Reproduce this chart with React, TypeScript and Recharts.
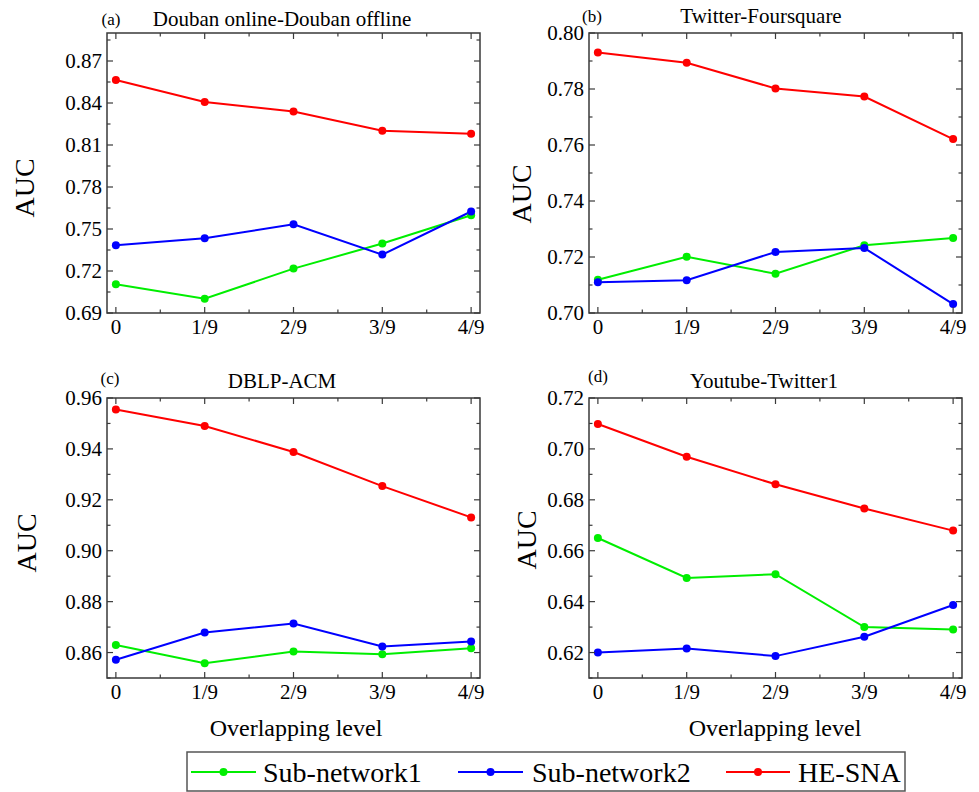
import React from 'react';
import { LineChart, Line, XAxis, YAxis, ReferenceArea } from 'recharts';

// x categories (overlapping level)
const levels = ['0', '1/9', '2/9', '3/9', '4/9'];
const seriesNames = ['Sub-network1', 'Sub-network2', 'HE-SNA'];
const colors = ['#00ee00', '#0000ff', '#ff0000'];

// (a) Douban online-Douban offline
const doubanSub1 = [0.7105, 0.7002, 0.7217, 0.7396, 0.7598];
const doubanSub2 = [0.7384, 0.7434, 0.7534, 0.7317, 0.7625];
const doubanHe = [0.8564, 0.8407, 0.834, 0.8202, 0.818];
const doubanTicks = [0.69, 0.72, 0.75, 0.78, 0.81, 0.84, 0.87];

// (b) Twitter-Foursquare
const twFsSub1 = [0.7119, 0.7201, 0.714, 0.7242, 0.7268];
const twFsSub2 = [0.711, 0.7117, 0.7218, 0.7232, 0.7032];
const twFsHe = [0.793, 0.7894, 0.7802, 0.7773, 0.7621];
const twFsTicks = [0.7, 0.72, 0.74, 0.76, 0.78, 0.8];

// (c) DBLP-ACM
const dblpSub1 = [0.863, 0.8558, 0.8604, 0.8593, 0.8617];
const dblpSub2 = [0.8572, 0.8679, 0.8714, 0.8624, 0.8643];
const dblpHe = [0.9555, 0.949, 0.9388, 0.9254, 0.9131];
const dblpTicks = [0.86, 0.88, 0.9, 0.92, 0.94, 0.96];

// (d) Youtube-Twitter1
const ytSub1 = [0.665, 0.6493, 0.6508, 0.63, 0.6291];
const ytSub2 = [0.62, 0.6216, 0.6186, 0.6262, 0.6387];
const ytHe = [0.7098, 0.6969, 0.6861, 0.6766, 0.6679];
const ytTicks = [0.62, 0.64, 0.66, 0.68, 0.7, 0.72];

const FONT = "'Liberation Serif', 'Times New Roman', serif";
const FRAME = '#3a3a3a';
const YW = 100;
const TOP = 22;
const RIGHT = 20;
const XH = 34;

const toRows = (s1: number[], s2: number[], he: number[]) =>
  levels.map((_, i) => ({ x: i, s1: s1[i], s2: s2[i], he: he[i] }));

const withMinors = (majors: number[], dom: number[]) => {
  const step = majors[1] - majors[0];
  const out = [...majors];
  majors.forEach((m) => {
    if (m + step / 2 <= dom[1] + 1e-9) out.push(m + step / 2);
  });
  if (majors[0] - step / 2 >= dom[0] - 1e-9) out.push(majors[0] - step / 2);
  return out.map((v) => Math.round(v * 10000) / 10000).sort((a, b) => a - b);
};

const panels = [
  { tag: '(a)', title: 'Douban online-Douban offline', rows: toRows(doubanSub1, doubanSub2, doubanHe), majors: doubanTicks, dom: [0.69, 0.89], box: [107, 33, 480, 313] },
  { tag: '(b)', title: 'Twitter-Foursquare', rows: toRows(twFsSub1, twFsSub2, twFsHe), majors: twFsTicks, dom: [0.7, 0.8], box: [589, 33, 962, 313] },
  { tag: '(c)', title: 'DBLP-ACM', rows: toRows(dblpSub1, dblpSub2, dblpHe), majors: dblpTicks, dom: [0.85, 0.96], box: [107, 398, 480, 678] },
  { tag: '(d)', title: 'Youtube-Twitter1', rows: toRows(ytSub1, ytSub2, ytHe), majors: ytTicks, dom: [0.61, 0.72], box: [589, 398, 962, 678] },
];

const xTicks = [0, 0.5, 1, 1.5, 2, 2.5, 3, 3.5, 4];

function Panel({ p }: { p: any }) {
  const [x0, y0, x1, y1] = p.box;
  const plotW = x1 - x0;
  const plotH = y1 - y0;
  const width = YW + plotW + RIGHT;
  const height = TOP + plotH + XH;

  const xTick = (props: any) => {
    const { x, y, payload } = props;
    const v = payload.value;
    const major = Math.abs(v - Math.round(v)) < 1e-6;
    const len = major ? 6 : 3.5;
    return (
      <g>
        <line x1={x} y1={y} x2={x} y2={y - len} stroke={FRAME} strokeWidth={1.2} />
        <line x1={x} y1={y - plotH} x2={x} y2={y - plotH + len} stroke={FRAME} strokeWidth={1.2} />
        {major && (
          <text x={x} y={y + 21} textAnchor="middle" fontSize={21} fontFamily={FONT} fill="#000">
            {levels[Math.round(v)]}
          </text>
        )}
      </g>
    );
  };

  const yTick = (props: any) => {
    const { x, y, payload } = props;
    const v = payload.value;
    const major = p.majors.some((m: number) => Math.abs(m - v) < 1e-6);
    const len = major ? 6 : 3.5;
    return (
      <g>
        <line x1={x} y1={y} x2={x + len} y2={y} stroke={FRAME} strokeWidth={1.2} />
        <line x1={x + plotW} y1={y} x2={x + plotW - len} y2={y} stroke={FRAME} strokeWidth={1.2} />
        {major && (
          <text x={x - 5} y={y + 7} textAnchor="end" fontSize={21} fontFamily={FONT} fill="#000">
            {v.toFixed(2)}
          </text>
        )}
      </g>
    );
  };

  return (
    <div style={{ position: 'absolute', left: x0 - YW, top: y0 - TOP }}>
      <LineChart width={width} height={height} data={p.rows} margin={{ top: TOP, right: RIGHT, bottom: 0, left: 0 }}>
        <XAxis
          dataKey="x"
          type="number"
          domain={[-0.1, 4.1]}
          ticks={xTicks}
          interval={0}
          allowDataOverflow
          height={XH}
          axisLine={false}
          tickLine={false}
          tickSize={0}
          tickMargin={0}
          tick={xTick}
        />
        <YAxis
          type="number"
          domain={p.dom}
          ticks={withMinors(p.majors, p.dom)}
          interval={0}
          allowDataOverflow
          width={YW}
          axisLine={false}
          tickLine={false}
          tickSize={0}
          tickMargin={0}
          tick={yTick}
        />
        <ReferenceArea x1={-0.1} x2={4.1} y1={p.dom[0]} y2={p.dom[1]} fill="none" stroke={FRAME} strokeWidth={1.5} ifOverflow="visible" />
        {['s1', 's2', 'he'].map((k, i) => (
          <Line
            key={k}
            dataKey={k}
            type="linear"
            stroke={colors[i]}
            strokeWidth={2}
            dot={{ r: 4, fill: colors[i], stroke: colors[i], strokeWidth: 0 }}
            isAnimationActive={false}
          />
        ))}
      </LineChart>
    </div>
  );
}

// label positions: [tagX, tagY, titleX, titleY, aucX, aucY]
const labelPos = [
  [111, 25, 282, 26, 25, 188],
  [592, 22, 761, 23, 522, 194],
  [110, 384, 282, 388, 27, 543],
  [598, 382, 764, 388, 527, 540],
];

const legendItems = [
  { line: [191, 256], text: 263 },
  { line: [458, 523], text: 532 },
  { line: [726, 790], text: 798 },
];

export default function App() {
  return (
    <div style={{ position: 'absolute', left: 0, top: 0, width: 979, height: 792, background: '#fff', fontFamily: FONT }}>
      {panels.map((p, i) => (
        <Panel key={i} p={p} />
      ))}
      <svg width={979} height={792} style={{ position: 'absolute', left: 0, top: 0, pointerEvents: 'none' }}>
        {panels.map((p, i) => {
          const [tx, ty, hx, hy, ax, ay] = labelPos[i];
          return (
            <g key={i} fontFamily={FONT} fill="#000">
              <text x={tx} y={ty} textAnchor="middle" fontSize={17}>{p.tag}</text>
              <text x={hx} y={hy} textAnchor="middle" fontSize={21}>{p.title}</text>
              <text transform={`translate(${ax + 9},${ay}) rotate(-90)`} textAnchor="middle" fontSize={28}>AUC</text>
            </g>
          );
        })}
        <text x={296} y={736} textAnchor="middle" fontSize={24} fontFamily={FONT}>Overlapping level</text>
        <text x={775} y={736} textAnchor="middle" fontSize={24} fontFamily={FONT}>Overlapping level</text>
        <rect x={187} y={752} width={718} height={39} fill="#fff" stroke="#555" strokeWidth={1.5} />
        {legendItems.map((it, i) => (
          <g key={i}>
            <line x1={it.line[0]} y1={772} x2={it.line[1]} y2={772} stroke={colors[i]} strokeWidth={2} />
            <circle cx={(it.line[0] + it.line[1]) / 2} cy={772} r={4} fill={colors[i]} />
            <text x={it.text} y={782} fontSize={28} fontFamily={FONT} fill="#000">{seriesNames[i]}</text>
          </g>
        ))}
      </svg>
    </div>
  );
}
